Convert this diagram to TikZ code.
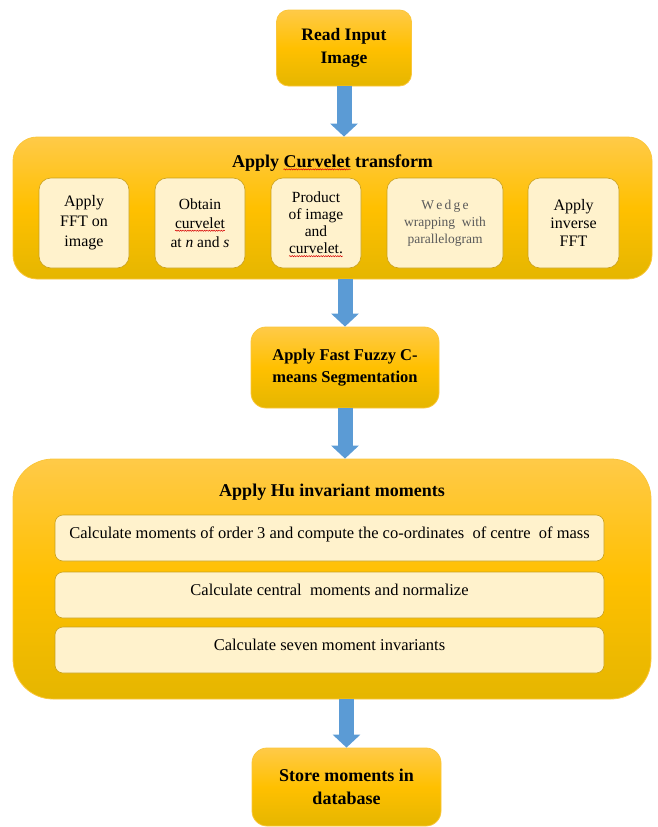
\documentclass[tikz,border=0pt]{standalone}
\usepackage{fontspec}
\setmainfont{Liberation Serif}
\usetikzlibrary{arrows.meta,decorations.pathmorphing}
\definecolor{goldtop}{RGB}{255,202,72}
\definecolor{goldmid}{RGB}{255,192,0}
\definecolor{goldbot}{RGB}{229,182,0}
\definecolor{goldedge}{RGB}{250,198,60}
\definecolor{cream}{RGB}{255,242,204}
\definecolor{creamedge}{RGB}{200,160,30}
\definecolor{arrowblue}{RGB}{91,155,213}
\definecolor{wedgegray}{RGB}{90,90,90}
\newdimen\sqwidth
\newcommand{\squig}[1]{\setbox0=\hbox{#1}\sqwidth=\wd0\relax\leavevmode\rlap{\tikz[overlay,baseline=0pt]\draw[sharp corners,red!85!black,line width=0.5pt,decorate,decoration={snake,amplitude=0.6pt,segment length=2.4pt}] (0pt,-2.4pt) -- (\sqwidth,-2.4pt);}\box0\relax}
\begin{document}
\begin{tikzpicture}[x=1pt,y=-1pt,
  outerbox/.style={rounded corners=#1, draw=goldedge, line width=0.8pt,
    top color=goldtop, bottom color=goldbot, middle color=goldmid, shading=axis},
  outerbox/.default=12pt,
  bigtext/.style={font=\fontsize{17.5}{22.5}\selectfont\bfseries, align=center},
  titletext/.style={font=\fontsize{18}{22}\selectfont\bfseries, inner sep=0pt},
  innerbox/.style={draw=creamedge, fill=cream, rounded corners=12pt, line width=0.6pt,
    align=center, inner sep=2pt, minimum height=90pt},
  hubox/.style={draw=creamedge, fill=cream, rounded corners=8pt, line width=0.6pt,
    minimum width=549pt, minimum height=46pt, text height=12pt, text depth=12pt,
    inner sep=0pt, font=\fontsize{16.5}{19}\selectfont},
  blockarrow/.style={draw=arrowblue, line width=15pt, -{Triangle[length=13pt,width=27pt]}}
]
\useasboundingbox (0,0) rectangle (657,827);

% Read input
\node[outerbox=12pt, minimum width=135pt, minimum height=76pt, bigtext] (read) at (344,48) {Read Input\\Image};

% Curvelet transform group
\node[outerbox=24pt, minimum width=639pt, minimum height=142pt, inner sep=0pt] (curv) at (332.5,208) {};
\node[titletext, anchor=base] (curvtitle) at (332.5,167) {Apply \squig{Curvelet} transform};
\node[innerbox, minimum width=90pt, font=\fontsize{16}{20}\selectfont] (c1) at (84,223) {Apply\\FFT on\\image};
\node[innerbox, minimum width=90pt, font=\fontsize{15.5}{19}\selectfont] (c2) at (200,223) {Obtain\\\squig{curvelet}\\at \textit{n} and \textit{s}};
\node[innerbox, minimum width=90pt, font=\fontsize{15.5}{17}\selectfont] (c3) at (316,223) {Product\\of image\\and\\\squig{curvelet.}};
\node[innerbox, minimum width=116pt, font=\fontsize{13.5}{17}\selectfont, text=wedgegray] (c4) at (445,223) {W\,e\,d\,g\,e\\wrapping\ \ with\\parallelogram};
\node[innerbox, minimum width=91pt, font=\fontsize{16}{18}\selectfont] (c5) at (573.5,223) {Apply\\inverse\\FFT};

% Fuzzy C-means
\node[outerbox=15pt, minimum width=188pt, minimum height=81pt, font=\fontsize{16.5}{22}\selectfont\bfseries, align=center] (fuzzy) at (345,367.5) {Apply Fast Fuzzy C-\\means Segmentation};

% Hu moments group
\node[outerbox=40pt, minimum width=638pt, minimum height=240pt, inner sep=0pt] (hu) at (332,579) {};
\node[titletext, anchor=base] (hutitle) at (332,496) {Apply Hu invariant moments};
\node[hubox] (h1) at (329.5,538) {Calculate moments of order 3 and compute the co-ordinates\ \ of centre\ \ of mass};
\node[hubox] (h2) at (329.5,595) {Calculate central\ \ moments and normalize};
\node[hubox] (h3) at (329.5,650) {Calculate seven moment invariants};

% Store
\node[outerbox=15pt, minimum width=189pt, minimum height=78pt, font=\fontsize{18}{23}\selectfont\bfseries, align=center] (store) at (346.5,787) {Store moments in\\database};

% Arrows
\draw[blockarrow] (read.south) -- (read.south |- curv.north);
\draw[blockarrow] (fuzzy.north |- curv.south) -- (fuzzy.north);
\draw[blockarrow] (fuzzy.south) -- (fuzzy.south |- hu.north);
\draw[blockarrow] (store.north |- hu.south) -- (store.north);
\end{tikzpicture}
\end{document}
